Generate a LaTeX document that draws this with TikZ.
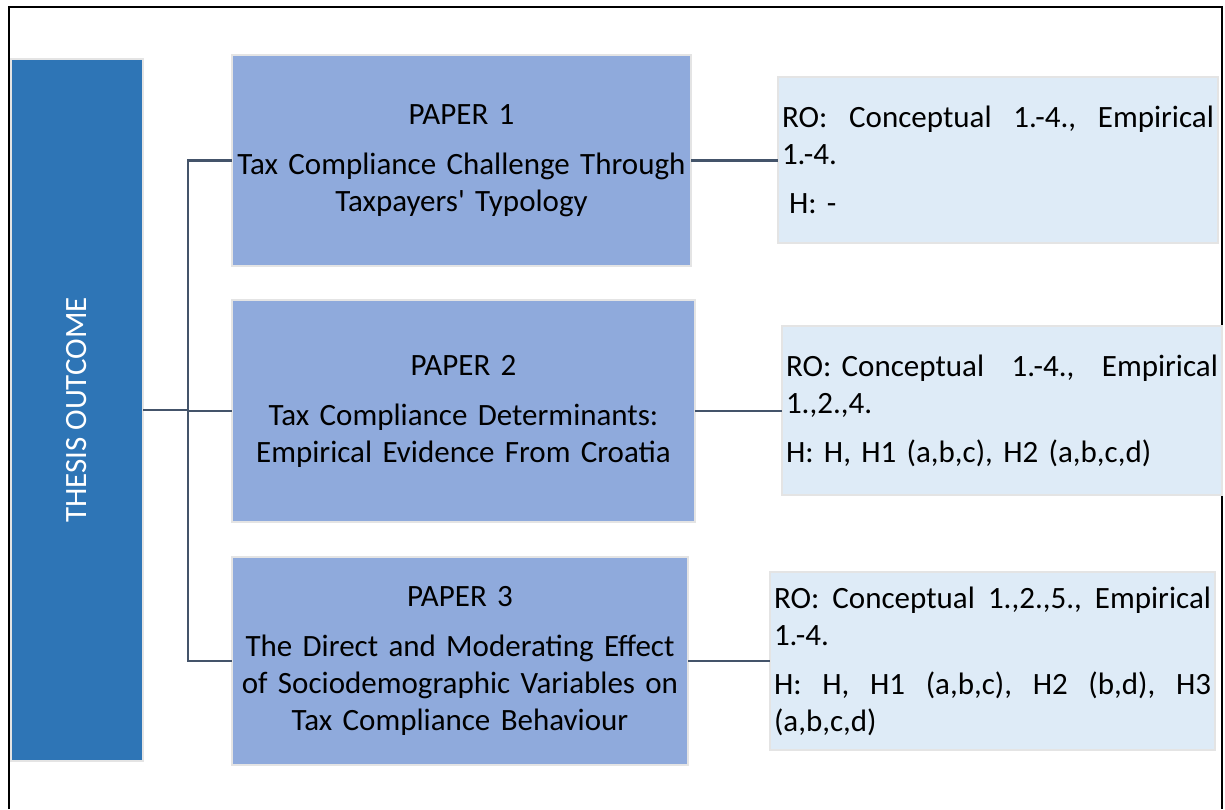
\documentclass[tikz,border=0pt]{standalone}
\usepackage{fontspec}
\setmainfont{Carlito}
\definecolor{thesisblue}{HTML}{2E75B6}
\definecolor{paperblue}{HTML}{8FAADC}
\definecolor{roblue}{HTML}{DEEBF7}
\definecolor{edgegray}{HTML}{E4E4E4}
\definecolor{connslate}{HTML}{44546A}
\begin{document}
\begin{tikzpicture}[x=1pt,y=-1pt,
  box/.style={rectangle, draw=edgegray, line width=2.5pt, anchor=north west, inner sep=0pt, outer sep=0pt},
  thesisbox/.style={box, fill=thesisblue},
  paperbox/.style={box, fill=paperblue, align=center, font=\fontsize{31}{37}\selectfont},
  robox/.style={box, fill=roblue, align=left, inner xsep=4pt, font=\fontsize{31}{37}\selectfont},
  conn/.style={draw=connslate, line width=2.8pt}]
\useasboundingbox (0,0) rectangle (1225,809);
\draw[black, line width=2pt] (9,809) -- (9,7) -- (1222,7) -- (1222,809);

\node[thesisbox, minimum width=132pt, minimum height=702pt] (thesis) at (11,59) {};
\node[text=white, rotate=90, font=\fontsize{31}{37}\selectfont] (thesislabel) at (thesis.center) {THESIS OUTCOME};

\node[paperbox, minimum width=459pt, minimum height=211pt, text width=455pt] (p1) at (232,55)
  {PAPER 1\\[13pt]Tax Compliance Challenge Through\\Taxpayers\textquotesingle\ Typology};
\node[paperbox, minimum width=463pt, minimum height=222pt, text width=459pt] (p2) at (232,300)
  {PAPER 2\\[13pt]Tax Compliance Determinants:\\Empirical Evidence From Croatia};
\node[paperbox, minimum width=456pt, minimum height=208pt, text width=452pt] (p3) at (232,557)
  {PAPER 3\\[13pt]The Direct and Moderating Effect\\of Sociodemographic Variables on\\Tax Compliance Behaviour};

\node[robox, minimum width=440pt, minimum height=166pt, text width=432pt] (r1) at (778,77)
  {RO:\hfill Conceptual\hfill 1.-4.,\hfill Empirical\\1.-4.\\[12pt]\hspace{7pt}H: -};
\node[robox, minimum width=440pt, minimum height=169pt, text width=432pt] (r2) at (782,326)
  {RO: Conceptual\hfill 1.-4.,\hfill Empirical\\1.,2.,4.\\[12pt]H: H, H1 (a,b,c), H2 (a,b,c,d)};
\node[robox, minimum width=445pt, minimum height=178pt, text width=437pt] (r3) at (770,572)
  {RO:\hfill Conceptual\hfill 1.,2.,5.,\hfill Empirical\\1.-4.\\[12pt]H:\hfill H,\hfill H1\hfill (a,b,c),\hfill H2\hfill (b,d),\hfill H3\\(a,b,c,d)};

\coordinate (j) at (188,410);
\draw[conn] (thesis.east) -- (j);
\draw[conn] (p1.west) -- (p1.west -| j) -- (p3.west -| j) -- (p3.west);
\draw[conn] (j |- p2.west) -- (p2.west);
\draw[conn] (p1.east) -- (r1.west |- p1.east);
\draw[conn] (p2.east) -- (r2.west |- p2.east);
\draw[conn] (p3.east) -- (r3.west |- p3.east);
\end{tikzpicture}
\end{document}
